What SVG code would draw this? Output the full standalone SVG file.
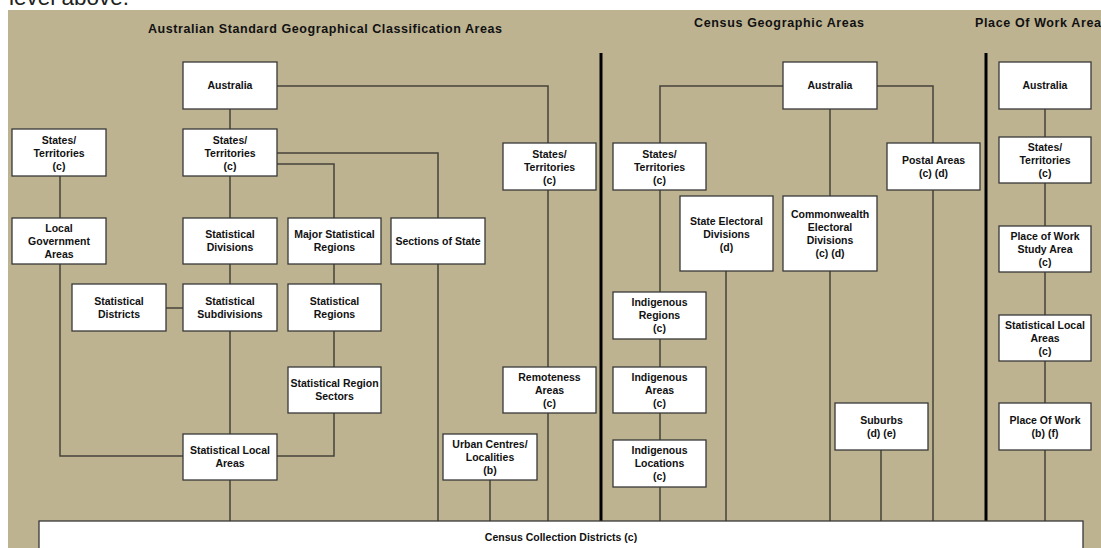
<svg xmlns="http://www.w3.org/2000/svg" width="1101" height="548" viewBox="0 0 1101 548">
<style>
.bg{fill:#BDB391}
.box{fill:#fff;stroke:#383838;stroke-width:1.3}
.t{font-family:"Liberation Sans",Arial,sans-serif;font-weight:bold;font-size:10.5px;fill:#111;text-anchor:middle}
.title{font-family:"Liberation Sans",Arial,sans-serif;font-weight:bold;font-size:12.5px;fill:#111}
.c{fill:none;stroke:#45433a;stroke-width:1.5}
.div{stroke:#000;stroke-width:3}
</style>
<rect width="1101" height="548" fill="#fff"/>
<text x="9" y="5" font-family="'Liberation Sans',Arial,sans-serif" font-size="22.5" fill="#222">level above.</text>
<rect class="bg" x="8" y="10" width="1093" height="538"/>
<text class="title" x="325" y="33" text-anchor="middle" textLength="354">Australian Standard Geographical Classification Areas</text>
<text class="title" x="779" y="27" text-anchor="middle" textLength="170">Census Geographic Areas</text>
<text class="title" x="975" y="27" textLength="126">Place Of Work Area</text>
<g id="dividers">
<line class="div" x1="601" y1="53" x2="601" y2="522"/>
<line class="div" x1="986" y1="53" x2="986" y2="522"/>
</g>
<g id="connectors">
<path class="c" d="M230 109V129"/>
<path class="c" d="M277 86H548V143"/>
<path class="c" d="M230 176V218"/>
<path class="c" d="M277 153H438V218"/>
<path class="c" d="M277 164H334V218"/>
<path class="c" d="M60 176V218"/>
<path class="c" d="M60 264V456H183"/>
<path class="c" d="M230 264V284"/>
<path class="c" d="M166 308H183"/>
<path class="c" d="M230 331V434"/>
<path class="c" d="M334 264V284"/>
<path class="c" d="M334 331V367"/>
<path class="c" d="M334 413V456H277"/>
<path class="c" d="M230 480V521"/>
<path class="c" d="M438 264V521"/>
<path class="c" d="M490 480V521"/>
<path class="c" d="M548 190V367"/>
<path class="c" d="M548 413V521"/>
<path class="c" d="M783 86H660V143"/>
<path class="c" d="M660 190V292"/>
<path class="c" d="M660 339V367"/>
<path class="c" d="M660 413V440"/>
<path class="c" d="M660 487V521"/>
<path class="c" d="M726 271V521"/>
<path class="c" d="M830 109V196"/>
<path class="c" d="M830 271V521"/>
<path class="c" d="M877 86H933V143"/>
<path class="c" d="M933 190V521"/>
<path class="c" d="M881 450V521"/>
<path class="c" d="M1045 109V137"/>
<path class="c" d="M1045 183V226"/>
<path class="c" d="M1045 272V315"/>
<path class="c" d="M1045 361V403"/>
<path class="c" d="M1045 450V521"/>
</g>
<g id="aus1"><rect class="box" x="183" y="62" width="94" height="47"/><text class="t" x="230" y="89">Australia</text></g>
<g id="st_lga"><rect class="box" x="12" y="129" width="94" height="47"/><text class="t" x="59" y="144">States/</text><text class="t" x="59" y="157">Territories</text><text class="t" x="59" y="170">(c)</text></g>
<g id="st_main"><rect class="box" x="183" y="129" width="94" height="47"/><text class="t" x="230" y="144">States/</text><text class="t" x="230" y="157">Territories</text><text class="t" x="230" y="170">(c)</text></g>
<g id="st_rem"><rect class="box" x="503" y="143" width="93" height="47"/><text class="t" x="549.5" y="158">States/</text><text class="t" x="549.5" y="171">Territories</text><text class="t" x="549.5" y="184">(c)</text></g>
<g id="lga"><rect class="box" x="12" y="218" width="94" height="46"/><text class="t" x="59" y="232">Local</text><text class="t" x="59" y="245">Government</text><text class="t" x="59" y="258">Areas</text></g>
<g id="sdiv"><rect class="box" x="183" y="218" width="94" height="46"/><text class="t" x="230" y="238">Statistical</text><text class="t" x="230" y="251">Divisions</text></g>
<g id="msr"><rect class="box" x="288" y="218" width="93" height="46"/><text class="t" x="334.5" y="238">Major Statistical</text><text class="t" x="334.5" y="251">Regions</text></g>
<g id="sos"><rect class="box" x="391" y="218" width="94" height="46"/><text class="t" x="438" y="245">Sections of State</text></g>
<g id="sdist"><rect class="box" x="72" y="284" width="94" height="47"/><text class="t" x="119" y="305">Statistical</text><text class="t" x="119" y="318">Districts</text></g>
<g id="ssub"><rect class="box" x="183" y="284" width="94" height="47"/><text class="t" x="230" y="305">Statistical</text><text class="t" x="230" y="318">Subdivisions</text></g>
<g id="sreg"><rect class="box" x="288" y="284" width="93" height="47"/><text class="t" x="334.5" y="305">Statistical</text><text class="t" x="334.5" y="318">Regions</text></g>
<g id="srs"><rect class="box" x="288" y="367" width="93" height="46"/><text class="t" x="334.5" y="387">Statistical Region</text><text class="t" x="334.5" y="400">Sectors</text></g>
<g id="rem"><rect class="box" x="503" y="367" width="93" height="46"/><text class="t" x="549.5" y="381">Remoteness</text><text class="t" x="549.5" y="394">Areas</text><text class="t" x="549.5" y="407">(c)</text></g>
<g id="sla"><rect class="box" x="183" y="434" width="94" height="46"/><text class="t" x="230" y="454">Statistical Local</text><text class="t" x="230" y="467">Areas</text></g>
<g id="ucl"><rect class="box" x="443" y="434" width="94" height="46"/><text class="t" x="490" y="448">Urban Centres/</text><text class="t" x="490" y="461">Localities</text><text class="t" x="490" y="474">(b)</text></g>
<g id="aus2"><rect class="box" x="783" y="62" width="94" height="47"/><text class="t" x="830" y="89">Australia</text></g>
<g id="st2"><rect class="box" x="613" y="143" width="93" height="47"/><text class="t" x="659.5" y="158">States/</text><text class="t" x="659.5" y="171">Territories</text><text class="t" x="659.5" y="184">(c)</text></g>
<g id="sed"><rect class="box" x="680" y="196" width="93" height="75"/><text class="t" x="726.5" y="225">State Electoral</text><text class="t" x="726.5" y="238">Divisions</text><text class="t" x="726.5" y="251">(d)</text></g>
<g id="ced"><rect class="box" x="783" y="196" width="94" height="75"/><text class="t" x="830" y="218">Commonwealth</text><text class="t" x="830" y="231">Electoral</text><text class="t" x="830" y="244">Divisions</text><text class="t" x="830" y="257">(c) (d)</text></g>
<g id="pa"><rect class="box" x="887" y="143" width="93" height="47"/><text class="t" x="933.5" y="164">Postal Areas</text><text class="t" x="933.5" y="177">(c) (d)</text></g>
<g id="ir"><rect class="box" x="613" y="292" width="93" height="47"/><text class="t" x="659.5" y="306">Indigenous</text><text class="t" x="659.5" y="319">Regions</text><text class="t" x="659.5" y="332">(c)</text></g>
<g id="ia"><rect class="box" x="613" y="367" width="93" height="46"/><text class="t" x="659.5" y="381">Indigenous</text><text class="t" x="659.5" y="394">Areas</text><text class="t" x="659.5" y="407">(c)</text></g>
<g id="il"><rect class="box" x="613" y="440" width="93" height="47"/><text class="t" x="659.5" y="454">Indigenous</text><text class="t" x="659.5" y="467">Locations</text><text class="t" x="659.5" y="480">(c)</text></g>
<g id="sub"><rect class="box" x="835" y="403" width="93" height="47"/><text class="t" x="881.5" y="424">Suburbs</text><text class="t" x="881.5" y="437">(d) (e)</text></g>
<g id="aus3"><rect class="box" x="999" y="62" width="92" height="47"/><text class="t" x="1045" y="89">Australia</text></g>
<g id="st3"><rect class="box" x="999" y="137" width="92" height="46"/><text class="t" x="1045" y="151">States/</text><text class="t" x="1045" y="164">Territories</text><text class="t" x="1045" y="177">(c)</text></g>
<g id="pwsa"><rect class="box" x="999" y="226" width="92" height="46"/><text class="t" x="1045" y="240">Place of Work</text><text class="t" x="1045" y="253">Study Area</text><text class="t" x="1045" y="266">(c)</text></g>
<g id="sla3"><rect class="box" x="999" y="315" width="92" height="46"/><text class="t" x="1045" y="329">Statistical Local</text><text class="t" x="1045" y="342">Areas</text><text class="t" x="1045" y="355">(c)</text></g>
<g id="pow"><rect class="box" x="999" y="403" width="92" height="47"/><text class="t" x="1045" y="424">Place Of Work</text><text class="t" x="1045" y="437">(b) (f)</text></g>
<g id="ccd"><rect class="box" x="39" y="521" width="1044" height="40"/><text class="t" x="561" y="541">Census Collection Districts (c)</text></g>
</svg>
